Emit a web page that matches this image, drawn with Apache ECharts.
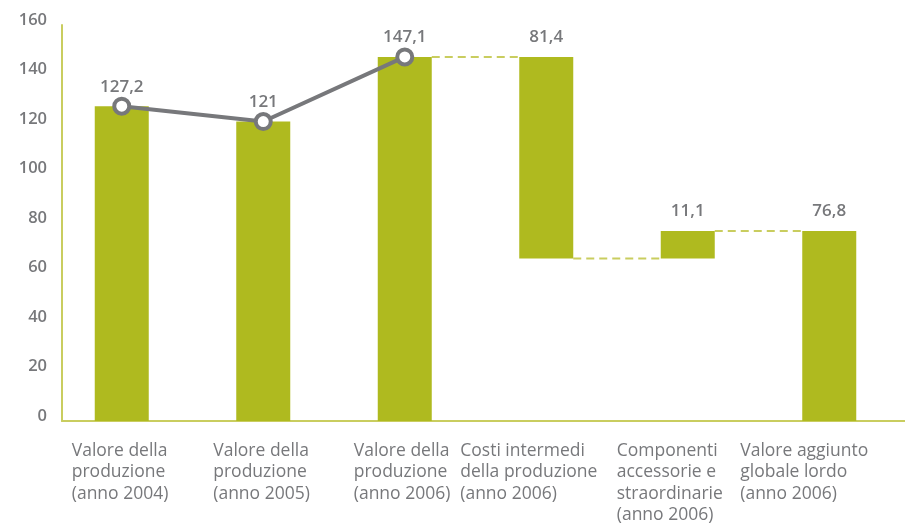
<!DOCTYPE html>
<html>
<head>
<meta charset="utf-8">
<script src="https://cdn.jsdelivr.net/npm/echarts@6/dist/echarts.min.js"></script>
<style>
  html, body { margin: 0; padding: 0; background: #fff; }
  #chart { width: 905px; height: 526px; }
</style>
</head>
<body>
<div id="chart"></div>
<script>
// Categories along the x axis (one multi-line label each)
const categories = [
  'Valore della\nproduzione\n(anno 2004)',
  'Valore della\nproduzione\n(anno 2005)',
  'Valore della\nproduzione\n(anno 2006)',
  'Costi intermedi\ndella produzione\n(anno 2006)',
  'Componenti\naccessorie e\nstraordinarie\n(anno 2006)',
  'Valore aggiunto\nglobale lordo\n(anno 2006)'
];
// Production value per year (2004, 2005, 2006)
const produzione = [127.2, 121, 147.1];
// 2006 movements
const costiIntermedi = 81.4;
const componenti = 11.1;
const valoreAggiunto = 76.8;
// Y axis ticks
const yTicks = { min: 0, max: 160, interval: 20 };

// Waterfall: invisible base + visible step
const afterCosts = produzione[2] - costiIntermedi;
const steps = [produzione[0], produzione[1], produzione[2], costiIntermedi, componenti, valoreAggiunto];
const bases = [0, 0, 0, afterCosts, afterCosts, 0];
// Connectors: [from category, level]
const connectors = [[2, produzione[2]], [3, afterCosts], [4, afterCosts + componenti]];

const GREEN = '#afba1f';
const LIGHT = '#c9cd5f';
const GREY = '#77787b';
const FONT = '"Open Sans", "Noto Sans", sans-serif';
const BAR_W = 54;

// per-category text block widths (lines left-aligned inside)
const blockW = [100, 100, 102, 172, 142, 178];
const rich = {};
blockW.forEach((w, i) => {
  rich['c' + i] = { width: w, align: 'left', fontFamily: FONT, fontSize: 17.5, lineHeight: 21.5, color: GREY };
});

const fmt = v => String(v).replace('.', ',');

const chart = echarts.init(document.getElementById('chart'), null, { renderer: 'canvas' });
chart.setOption({
  animation: false,
  grid: [
    { left: 62, right: 0, top: 25, bottom: 105, outerBoundsMode: 'none', containLabel: false },
    { left: 51, right: 5, top: 25, bottom: 105, outerBoundsMode: 'none', containLabel: false }
  ],
  xAxis: [
    {
      gridIndex: 0, type: 'category', data: categories,
      axisLine: { show: true, lineStyle: { color: LIGHT, width: 2 } },
      axisTick: { show: false }, axisLabel: { show: false }, splitLine: { show: false }
    },
    {
      gridIndex: 1, type: 'category', data: categories,
      axisLine: { show: false }, axisTick: { show: false },
      axisLabel: {
        margin: 19,
        interval: 0,
        verticalAlign: 'top',
        hideOverlap: false,
        formatter: (val, idx) => val.split('\n').map(l => '{c' + idx + '|' + l + '}').join('\n'),
        rich: rich
      }
    }
  ],
  yAxis: [
    {
      gridIndex: 0, type: 'value', min: yTicks.min, max: yTicks.max, interval: yTicks.interval,
      axisLine: { show: true, lineStyle: { color: LIGHT, width: 2 } },
      axisTick: { show: false },
      splitLine: { show: false },
      axisLabel: {
        margin: 15, color: GREY, fontFamily: FONT, fontSize: 16.5, fontWeight: 600,
        verticalAlign: 'bottom', lineHeight: 10
      }
    },
    {
      gridIndex: 1, type: 'value', min: yTicks.min, max: yTicks.max, interval: yTicks.interval,
      show: false
    }
  ],
  series: [
    {
      type: 'bar', xAxisIndex: 1, yAxisIndex: 1, stack: 'w', barWidth: BAR_W,
      data: bases, itemStyle: { color: 'transparent' }, silent: true
    },
    {
      type: 'bar', xAxisIndex: 1, yAxisIndex: 1, stack: 'w', barWidth: BAR_W,
      data: steps, itemStyle: { color: GREEN },
      label: {
        show: true, position: 'top', distance: 11,
        color: GREY, fontFamily: FONT, fontSize: 17, fontWeight: 600,
        formatter: p => fmt(p.value)
      }
    },
    {
      type: 'custom', xAxisIndex: 1, yAxisIndex: 1, data: connectors, z: 1,
      renderItem: (params, api) => {
        const a = api.coord([api.value(0), api.value(1)]);
        const b = api.coord([api.value(0) + 1, api.value(1)]);
        return {
          type: 'line',
          shape: { x1: a[0] + BAR_W / 2, y1: a[1], x2: b[0] - BAR_W / 2, y2: b[1] },
          style: { stroke: LIGHT, lineWidth: 2, lineDash: [8, 5] }
        };
      }
    },
    {
      type: 'line', xAxisIndex: 1, yAxisIndex: 1, z: 5,
      data: produzione,
      lineStyle: { color: GREY, width: 4 },
      symbol: 'circle', symbolSize: 15,
      itemStyle: { color: '#fff', borderColor: GREY, borderWidth: 4 }
    }
  ]
});
</script>
</body>
</html>
